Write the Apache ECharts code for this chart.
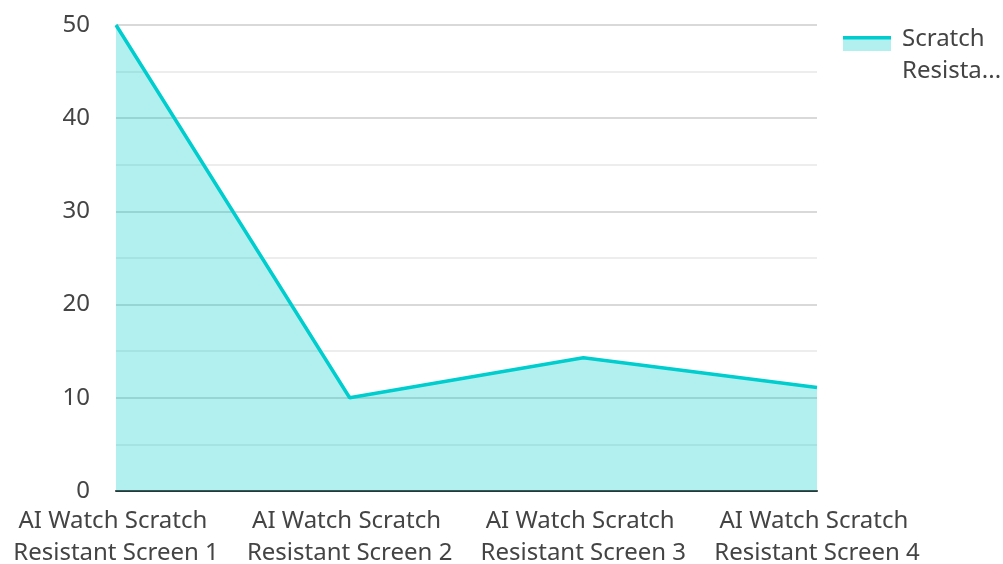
<!DOCTYPE html>
<html>
<head>
<meta charset="utf-8">
<title>Scratch Resistance</title>
<script src="https://cdn.jsdelivr.net/npm/echarts@6/dist/echarts.min.js"></script>
<style>
  html, body { margin: 0; padding: 0; background: #fff; }
  #main { width: 1003px; height: 564px; }
</style>
</head>
<body>
<div id="main"></div>
<script>
// chart data
var screens = [
    'AI Watch Scratch Resistant Screen 1',
    'AI Watch Scratch Resistant Screen 2',
    'AI Watch Scratch Resistant Screen 3',
    'AI Watch Scratch Resistant Screen 4'
];
var seriesName = 'Scratch Resistance';
var scratchValues = [50, 10, 14.3, 11.1];

var font = '"Noto Sans", "Open Sans", sans-serif';
var lineColor = '#00cdcd';

// legend icon: line on top of a light area block
var iconSvg = '<svg xmlns="http://www.w3.org/2000/svg" width="48" height="40" viewBox="0 0 48 40">' +
    '<rect x="0" y="1" width="48" height="15" fill="#b2f0f0"/>' +
    '<rect x="0" y="1" width="48" height="3.5" fill="#00cdcd"/></svg>';
var legendIcon = 'image://data:image/svg+xml;charset=utf-8,' + encodeURIComponent(iconSvg);

var myChart = echarts.init(document.getElementById('main'));
var option = {
    animation: false,
    textStyle: { fontFamily: font },
    grid: { left: 116, right: 186, top: 25, bottom: 73, outerBoundsMode: 'none', containLabel: false },
    legend: {
        left: 843,
        top: 23,
        padding: 0,
        orient: 'vertical',
        itemWidth: 48,
        itemHeight: 40,
        itemGap: 10,
        data: [{ name: seriesName, icon: legendIcon }],
        formatter: function (name) {
            return 'Scratch\nResista...';
        },
        textStyle: { fontFamily: font, fontSize: 24, color: '#444', lineHeight: 32, padding: [0, 0, 0, 6] }
    },
    xAxis: {
        type: 'category',
        data: screens,
        boundaryGap: false,
        axisLine: { lineStyle: { color: '#333', width: 2 } },
        axisTick: { show: false },
        axisLabel: {
            interval: 0,
            fontFamily: font,
            fontSize: 24,
            color: '#444',
            lineHeight: 32,
            margin: 14,
            width: 250,
            overflow: 'break'
        }
    },
    yAxis: {
        type: 'value',
        min: 0,
        max: 50,
        interval: 10,
        axisLine: { show: false },
        axisTick: { show: false },
        axisLabel: { fontFamily: font, fontSize: 24, color: '#444', margin: 26 },
        splitLine: { lineStyle: { color: '#cccccc', width: 1.5 } },
        minorTick: { show: false, splitNumber: 2 },
        minorSplitLine: { show: true, lineStyle: { color: '#e8e8e8', width: 1.5 } }
    },
    series: [
        {
            name: seriesName,
            type: 'line',
            data: scratchValues,
            showSymbol: false,
            symbol: 'none',
            lineStyle: { color: lineColor, width: 3.5 },
            itemStyle: { color: lineColor },
            areaStyle: { color: lineColor, opacity: 0.3 }
        }
    ]
};
myChart.setOption(option);
</script>
</body>
</html>
